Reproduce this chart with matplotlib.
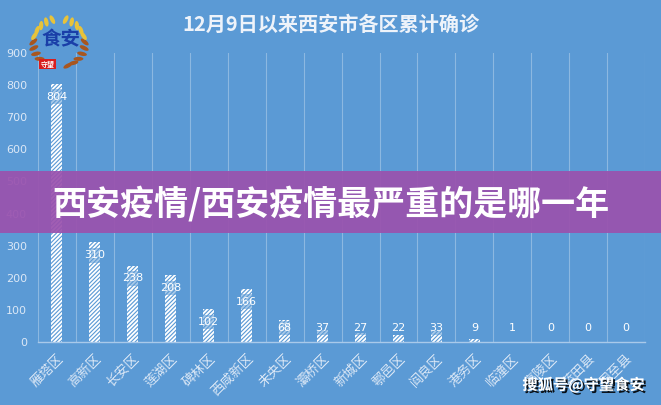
import numpy as np
import matplotlib
matplotlib.use("Agg")
import matplotlib.pyplot as plt
from matplotlib.patches import Rectangle, Ellipse
import matplotlib.patheffects as pe

plt.rcParams['font.family'] = ['Noto Sans CJK SC', 'DejaVu Sans']
plt.rcParams['hatch.linewidth'] = 1.3

districts = ['雁塔区', '高新区', '长安区', '莲湖区', '碑林区', '西咸新区', '未央区', '灞桥区',
             '新城区', '鄠邑区', '阎良区', '港务区', '临潼区', '高陵区', '蓝田县', '周至县']
cases = [804, 310, 238, 208, 102, 166, 68, 37, 27, 22, 33, 9, 1, 0, 0, 0]
y_ticks = [0, 100, 200, 300, 400, 500, 600, 700, 800, 900]

title = '12月9日以来西安市各区累计确诊'
banner = '西安疫情/西安疫情最严重的是哪一年'
watermark = '搜狐号@守望食安'

bg = '#5b9ad5'
light = '#dce8f6'

fig = plt.figure(figsize=(6.61, 4.05), dpi=100)
fig.patch.set_facecolor(bg)
ax = fig.add_axes([0.0575, 0.1556, 0.9185, 0.7135])
ax.set_facecolor(bg)

x = np.arange(len(cases))
ax.bar(x, cases, width=0.29, facecolor='none', edgecolor='white',
       linewidth=0, hatch='////////', zorder=2)

for xi, v in zip(x, cases):
    ax.text(xi, max(v - 40, 43), str(v), ha='center', va='center', fontsize=8,
            color='white', family=['DejaVu Sans'], zorder=3,
            bbox=dict(boxstyle='square,pad=0.2', facecolor=bg, alpha=0.55, lw=0))

ax.set_xlim(-0.5, len(cases) - 0.5)
ax.set_ylim(0, 900)
ax.set_yticks(y_ticks)
ax.set_yticklabels([str(t) for t in y_ticks], color=light, fontsize=8, family=['DejaVu Sans'])
ax.set_xticks(x)
ax.set_xticklabels(districts, rotation=45, ha='right', rotation_mode='anchor',
                   color=light, fontsize=9.5)
ax.tick_params(length=0, pad=7)
ax.tick_params(axis='y', pad=8)

# vertical separators between categories
for b in np.arange(-0.5, len(cases), 1.0):
    ax.axvline(b, color='white', alpha=0.3, lw=0.8, zorder=1)
for s in ['top', 'right', 'left']:
    ax.spines[s].set_visible(False)
ax.spines['bottom'].set_color('#a9c9ea')
ax.spines['bottom'].set_linewidth(1.0)

fig.text(0.5, 1 - 24 / 405, title, ha='center', va='center', fontsize=14.5,
         fontweight='bold', color='#eef3fa')

# logo (rough): laurel + characters
lax = fig.add_axes([26 / 661, 1 - 74 / 405, 66 / 661, 62 / 405])
lax.set_xlim(-1, 1)
lax.set_ylim(-1, 1)
lax.axis('off')
for side in (-1, 1):
    for k, ang in enumerate(np.linspace(250, 105, 11)):
        a = np.deg2rad(ang)
        px, py = side * -0.78 * np.cos(a), 0.78 * np.sin(a)
        col = '#e8c33a' if k > 5 else '#a8561f'
        lax.add_patch(Ellipse((px, py), 0.3, 0.13, angle=side * (ang - 90 + 50),
                              facecolor=col, lw=0))
lax.text(0.05, 0.1, '食安', ha='center', va='center', fontsize=14, color='#1a3fa8',
         fontweight='bold', style='italic')
lax.text(-0.35, -0.68, '守望', ha='center', va='center', fontsize=5, color='white',
         fontweight='bold', bbox=dict(boxstyle='square,pad=0.25', facecolor='#d81e1e', lw=0))

# banner overlay
fig.patches.append(Rectangle((0, 1 - 233 / 405), 1, 62 / 405, transform=fig.transFigure,
                             facecolor='#9a52ae', alpha=0.93, lw=0, zorder=5))
fig.text(0.5, 1 - 204 / 405, banner, ha='center', va='center', fontsize=24.5,
         fontweight='heavy', color='white', zorder=6)

fig.text(0.975, 1 - 385 / 405, watermark, ha='right', va='center', fontsize=11,
         fontweight='bold', color='white', zorder=6,
         path_effects=[pe.withSimplePatchShadow(offset=(1.5, -1.5), shadow_rgbFace='black', alpha=0.9)])

fig.savefig('out.png', dpi=100, facecolor=fig.get_facecolor())
